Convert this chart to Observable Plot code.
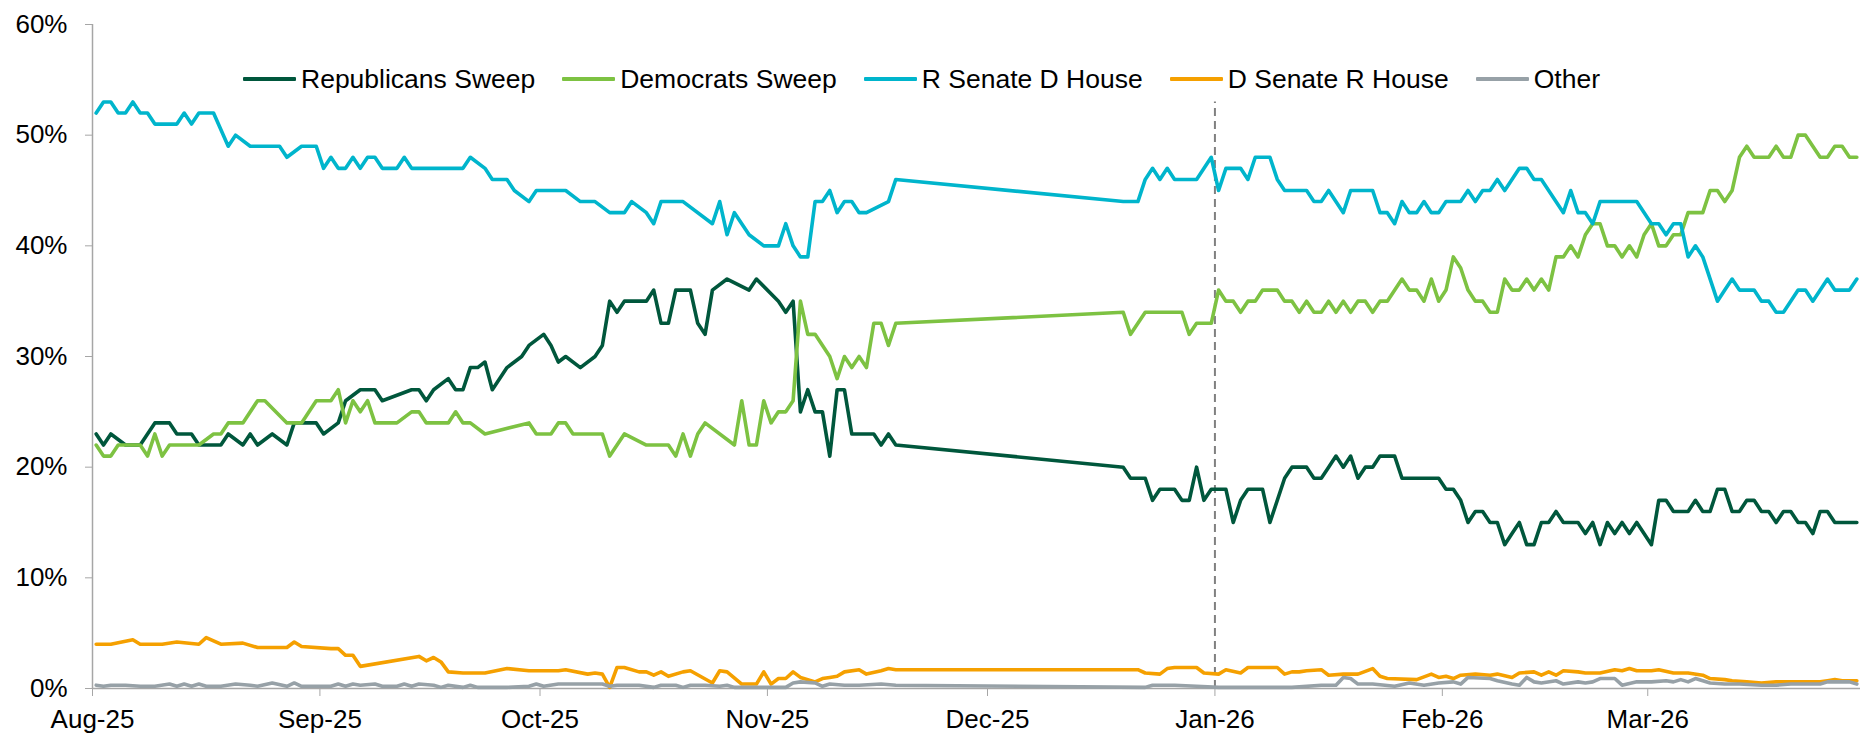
<!DOCTYPE html>
<html>
<head>
<meta charset="utf-8">
<script src="https://cdn.jsdelivr.net/npm/d3@7"></script>
<script src="https://cdn.jsdelivr.net/npm/@observablehq/plot@0.6"></script>
<style>
  html, body { margin: 0; padding: 0; background: #fff; }
  body { font-family: "Liberation Sans", Arial, Helvetica, sans-serif; }
  #wrap { position: relative; width: 1860px; height: 733px; }
  #legend {
    position: absolute; left: 243px; top: 63px; height: 32px;
    display: flex; align-items: center; white-space: nowrap;
    font-size: 26.5px; line-height: 32px; color: #000;
  }
  #legend .item { display: flex; align-items: center; margin-right: 27px; }
  #legend .sw { width: 53px; height: 4px; margin-right: 5px; border-radius: 1px; }
</style>
</head>
<body>
<div id="wrap"><div id="legend"></div></div>
<script>
// Day offsets are counted from 1 Aug 2025; values are probabilities in %.
const startDate = "2025-08-01";
const endDate = "2026-03-30";

const republicansSweep = [
  [0,23],[1,22],[2,23],[4,22],[6,22],[8,24],[10,24],[11,23],[13,23],[14,22],[17,22],[18,23],[20,22],[21,23],[22,22],[24,23],[26,22],[27,24],[30,24],[31,23],[33,24],[34,26],[36,27],[38,27],[39,26],[43,27],[44,27],[45,26],[46,27],[48,28],[49,27],[50,27],[51,29],[52,29],[53,29.5],[54,27],[56,29],[58,30],[59,31],[61,32],[62,31],[63,29.5],[64,30],[66,29],[68,30],[69,31],[70,35],[71,34],[72,35],[75,35],[76,36],[77,33],[78,33],[79,36],[81,36],[82,33],[83,32],[84,36],[86,37],[89,36],[90,37],[93,35],[94,34],[95,35],[96,25],[97,27],[98,25],[99,25],[100,21],[101,27],[102,27],[103,23],[106,23],[107,22],[108,23],[109,22],
  [140,20],[141,19],[143,19],[144,17],[145,18],[147,18],[148,17],[149,17],[150,20],[151,17],[152,18],[153,18],[154,18],[155,15],[156,17],[157,18],[159,18],[160,15],[162,19],[163,20],[165,20],[166,19],[167,19],[168,20],[169,21],[170,20],[171,21],[172,19],[173,20],[174,20],[175,21],[177,21],[178,19],[183,19],[184,18],[185,18],[186,17],[187,15],[188,16],[189,16],[190,15],[191,15],[192,13],[193,14],[194,15],[195,13],[196,13],[197,15],[198,15],[199,16],[200,15],[202,15],[203,14],[204,15],[205,13],[206,15],[207,14],[208,15],[209,14],[210,15],[212,13],[213,17],[214,17],[215,16],[217,16],[218,17],[219,16],[220,16],[221,18],[222,18],[223,16],[224,16],[225,17],[226,17],[227,16],[228,16],[229,15],[230,16],[231,16],[232,15],[233,15],[234,14],[235,16],[236,16],[237,15],[240,15]
];

const democratsSweep = [
  [0,22],[1,21],[2,21],[3,22],[6,22],[7,21],[8,23],[9,21],[10,22],[14,22],[16,23],[17,23],[18,24],[20,24],[22,26],[23,26],[26,24],[28,24],[30,26],[32,26],[33,27],[34,24],[35,26],[36,25],[37,26],[38,24],[41,24],[43,25],[44,25],[45,24],[48,24],[49,25],[50,24],[51,24],[53,23],[59,24],[60,23],[62,23],[63,24],[64,24],[65,23],[69,23],[70,21],[72,23],[75,22],[78,22],[79,21],[80,23],[81,21],[82,23],[83,24],[87,22],[88,26],[89,22],[90,22],[91,26],[92,24],[93,25],[94,25],[95,26],[96,35],[97,32],[98,32],[100,30],[101,28],[102,30],[103,29],[104,30],[105,29],[106,33],[107,33],[108,31],[109,33],
  [140,34],[141,32],[143,34],[148,34],[149,32],[150,33],[152,33],[153,36],[154,35],[155,35],[156,34],[157,35],[158,35],[159,36],[161,36],[162,35],[163,35],[164,34],[165,35],[166,34],[167,34],[168,35],[169,34],[170,35],[171,34],[172,35],[173,35],[174,34],[175,35],[176,35],[178,37],[179,36],[180,36],[181,35],[182,37],[183,35],[184,36],[185,39],[186,38],[187,36],[188,35],[189,35],[190,34],[191,34],[192,37],[193,36],[194,36],[195,37],[196,36],[197,37],[198,36],[199,39],[200,39],[201,40],[202,39],[203,41],[204,42],[205,42],[206,40],[207,40],[208,39],[209,40],[210,39],[211,41],[212,42],[213,40],[214,40],[215,41],[216,41],[217,43],[219,43],[220,45],[221,45],[222,44],[223,45],[224,48],[225,49],[226,48],[228,48],[229,49],[230,48],[231,48],[232,50],[233,50],[234,49],[235,48],[236,48],[237,49],[238,49],[239,48],[240,48]
];

const rSenateDHouse = [
  [0,52],[1,53],[2,53],[3,52],[4,52],[5,53],[6,52],[7,52],[8,51],[11,51],[12,52],[13,51],[14,52],[16,52],[18,49],[19,50],[21,49],[25,49],[26,48],[28,49],[30,49],[31,47],[32,48],[33,47],[34,47],[35,48],[36,47],[37,48],[38,48],[39,47],[41,47],[42,48],[43,47],[50,47],[51,48],[53,47],[54,46],[56,46],[57,45],[59,44],[60,45],[64,45],[66,44],[68,44],[70,43],[72,43],[73,44],[75,43],[76,42],[77,44],[80,44],[84,42],[85,44],[86,41],[87,43],[89,41],[91,40],[93,40],[94,42],[95,40],[96,39],[97,39],[98,44],[99,44],[100,45],[101,43],[102,44],[103,44],[104,43],[105,43],[108,44],[109,46],
  [140,44],[142,44],[143,46],[144,47],[145,46],[146,47],[147,46],[150,46],[152,48],[153,45],[154,47],[156,47],[157,46],[158,48],[160,48],[161,46],[162,45],[165,45],[166,44],[167,44],[168,45],[170,43],[171,45],[174,45],[175,43],[176,43],[177,42],[178,44],[179,43],[180,43],[181,44],[182,43],[183,43],[184,44],[186,44],[187,45],[188,44],[189,45],[190,45],[191,46],[192,45],[194,47],[195,47],[196,46],[197,46],[200,43],[201,45],[202,43],[203,43],[204,42],[205,44],[210,44],[212,42],[213,42],[214,41],[215,42],[216,42],[217,39],[218,40],[219,39],[221,35],[222,36],[223,37],[224,36],[226,36],[227,35],[228,35],[229,34],[230,34],[232,36],[233,36],[234,35],[236,37],[237,36],[239,36],[240,37]
];

const dSenateRHouse = [
  [0,4.0],[2,4.0],[5,4.4],[6,4.0],[9,4.0],[11,4.2],[14,4.0],[15,4.6],[17,4.0],[20,4.1],[22,3.7],[26,3.7],[27,4.2],[28,3.8],[32,3.6],[33,3.6],[34,3.0],[35,3.0],[36,2.0],[44,2.9],[45,2.5],[46,2.8],[47,2.4],[48,1.5],[50,1.4],[53,1.4],[56,1.8],[59,1.6],[63,1.6],[64,1.7],[67,1.3],[68,1.4],[69,1.3],[70,0.1],[71,1.9],[72,1.9],[74,1.5],[75,1.5],[76,1.2],[77,1.5],[78,1.1],[80,1.5],[81,1.6],[84,0.5],[85,1.6],[86,1.5],[88,0.4],[90,0.4],[91,1.5],[92,0.4],[93,0.9],[94,0.9],[95,1.5],[96,1.0],[98,0.6],[99,0.9],[100,1.0],[101,1.1],[102,1.5],[104,1.7],[105,1.3],[107,1.6],[108,1.8],[109,1.7],
  [142,1.7],[143,1.4],[145,1.3],[146,1.8],[147,1.9],[150,1.9],[151,1.4],[153,1.3],[154,1.7],[156,1.4],[157,1.9],[161,1.9],[162,1.3],[163,1.5],[164,1.5],[165,1.6],[167,1.7],[168,1.2],[170,1.3],[172,1.3],[174,1.8],[175,1.1],[176,0.9],[180,0.8],[182,1.3],[183,1.0],[184,1.1],[185,0.9],[186,1.2],[188,1.3],[190,1.2],[191,1.3],[193,1.0],[194,1.4],[196,1.5],[197,1.2],[198,1.5],[199,1.2],[200,1.6],[202,1.5],[203,1.4],[205,1.4],[207,1.7],[208,1.6],[209,1.8],[210,1.6],[212,1.6],[213,1.7],[215,1.4],[217,1.4],[219,1.2],[220,0.9],[222,0.8],[223,0.7],[225,0.6],[227,0.5],[229,0.6],[233,0.6],[235,0.6],[236,0.7],[237,0.8],[238,0.7],[240,0.7]
];

const other = [
  [0,0.3],[1,0.2],[2,0.3],[4,0.3],[6,0.2],[8,0.2],[10,0.4],[11,0.2],[12,0.4],[13,0.2],[14,0.4],[15,0.2],[17,0.2],[19,0.4],[21,0.3],[22,0.2],[24,0.5],[26,0.2],[27,0.5],[28,0.2],[32,0.2],[33,0.4],[34,0.2],[35,0.4],[36,0.3],[38,0.4],[39,0.2],[41,0.2],[42,0.4],[43,0.2],[44,0.4],[46,0.3],[47,0.1],[48,0.3],[50,0.1],[51,0.3],[52,0.1],[56,0.1],[59,0.2],[60,0.4],[61,0.2],[63,0.4],[69,0.4],[70,0.2],[71,0.3],[72,0.3],[74,0.3],[76,0.1],[77,0.3],[79,0.3],[80,0.1],[81,0.3],[83,0.3],[85,0.2],[86,0.3],[87,0.1],[90,0.1],[94,0.1],[95,0.5],[96,0.6],[98,0.5],[99,0.2],[100,0.4],[102,0.3],[104,0.3],[107,0.4],[109,0.3],
  [143,0.1],[144,0.3],[147,0.3],[150,0.2],[153,0.1],[161,0.1],[163,0.1],[167,0.3],[169,0.3],[170,1.0],[171,0.9],[172,0.4],[174,0.4],[177,0.2],[179,0.5],[181,0.3],[183,0.5],[185,0.6],[186,0.4],[187,1.0],[190,0.9],[191,0.7],[193,0.4],[194,0.3],[195,1.0],[196,0.6],[197,0.5],[199,0.7],[200,0.4],[202,0.6],[203,0.5],[204,0.6],[205,0.9],[207,0.9],[208,0.3],[210,0.6],[212,0.6],[214,0.7],[215,0.6],[216,0.8],[217,0.6],[218,0.9],[220,0.5],[222,0.4],[224,0.4],[227,0.3],[229,0.3],[231,0.4],[233,0.4],[235,0.4],[236,0.6],[238,0.6],[239,0.6],[240,0.4]
];

const seriesNames = ["Republicans Sweep", "Democrats Sweep", "R Senate D House", "D Senate R House", "Other"];
const seriesColors = ["#00573c", "#7dc242", "#00b5cc", "#f5a000", "#97a1a7"];
const seriesValues = [republicansSweep, democratsSweep, rSenateDHouse, dSenateRHouse, other];

const monthTicks = ["2025-08-01","2025-09-01","2025-10-01","2025-11-01","2025-12-01","2026-01-01","2026-02-01","2026-03-01"];
const yTicks = [0, 10, 20, 30, 40, 50, 60];

// Reference date marked with a dashed rule, and how high the rule reaches (%)
const markerDate = "2026-01-01";
const markerTop = 53;

const start = new Date(startDate + "T00:00:00Z");
const dayMs = 864e5;
// each daily reading sits in the middle of its day slot on the date axis
const toDate = d => new Date(start.getTime() + (d + 0.5) * dayMs);

const axisGray = "#a6a6a6";
const font = "'Liberation Sans', Arial, Helvetica, sans-serif";

const lineMarks = seriesValues.map((pts, i) =>
  Plot.line(pts.map(([d, v]) => ({date: toDate(d), value: v})), {
    x: "date", y: "value",
    stroke: seriesColors[i], strokeWidth: 3.6,
    strokeLinejoin: "round", strokeLinecap: "round"
  })
);

const chart = Plot.plot({
  width: 1860,
  height: 733,
  marginLeft: 92,
  marginRight: 0,
  marginTop: 24,
  marginBottom: 45,
  style: {fontFamily: font, fontSize: "26px", color: "#000", background: "#fff", overflow: "visible"},
  x: {type: "utc", domain: [start, new Date(endDate + "T00:00:00Z")], label: null},
  y: {domain: [0, 60], label: null},
  marks: [
    Plot.ruleY([0], {stroke: axisGray, strokeWidth: 1.5}),
    Plot.ruleX([start], {y1: 0, y2: 60, stroke: axisGray, strokeWidth: 1.5}),
    Plot.axisY({
      ticks: yTicks, tickSize: 7, tickPadding: 18,
      tickFormat: d => d + "%", stroke: axisGray, fill: "#000",
      fontSize: 26, label: null
    }),
    Plot.axisX({
      ticks: monthTicks.map(s => new Date(s + "T00:00:00Z")),
      tickFormat: d3.utcFormat("%b-%y"), tickSize: 8, tickPadding: 13,
      stroke: axisGray, fill: "#000", fontSize: 26, label: null
    }),
    Plot.ruleX([new Date(markerDate + "T00:00:00Z")], {
      y1: 0, y2: markerTop, stroke: "#808080", strokeWidth: 2, strokeDasharray: "8,5"
    }),
    ...lineMarks
  ]
});

document.getElementById("wrap").prepend(chart);

// legend row drawn across the top of the plot
const legend = d3.select("#legend");
seriesNames.forEach((name, i) => {
  const item = legend.append("div").attr("class", "item");
  item.append("div").attr("class", "sw").style("background", seriesColors[i]);
  item.append("span").text(name);
});
</script>
</body>
</html>
